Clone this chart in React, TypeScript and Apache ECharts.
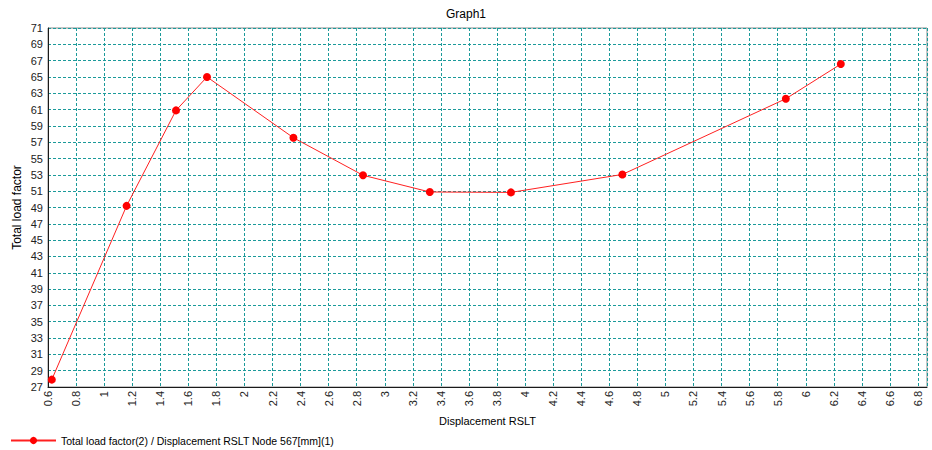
import React, { useEffect, useRef } from "react";
import * as echarts from "echarts";

const displacement = [0.627, 1.16, 1.512, 1.733, 2.349, 2.845, 3.321, 3.899, 4.693, 5.858, 6.25];
const loadFactor = [27.9, 49.2, 60.9, 65.0, 57.55, 52.95, 50.9, 50.85, 53.05, 62.33, 66.58];
const titleText = "Graph1";
const xName = "Displacement RSLT";
const yName = "Total load factor";
const seriesName = "Total load factor(2) / Displacement RSLT Node 567[mm](1)";

const FONT = "'Liberation Sans', Arial, sans-serif";

export default function App() {
  const ref = useRef<HTMLDivElement>(null);
  useEffect(() => {
    if (!ref.current) return;
    const chart = echarts.init(ref.current, undefined, { renderer: "svg" });
    const data = displacement.map((x, i) => [x, loadFactor[i]]);
    chart.setOption({
      animation: false,
      backgroundColor: "#ffffff",
      textStyle: { fontFamily: FONT },
      title: {
        text: titleText,
        left: "center",
        top: 3,
        textStyle: { fontSize: 12, fontWeight: "normal", color: "#000", fontFamily: FONT },
      },
      legend: {
        left: 10,
        top: 435,
        padding: 0,
        itemWidth: 45,
        itemHeight: 9,
        itemGap: 10,
        textStyle: { fontSize: 10.5, color: "#000", fontFamily: FONT },
        data: [{ name: seriesName }],
      },
      grid: {
        left: 48,
        top: 28,
        right: 5,
        bottom: 63,
        show: true,
        borderColor: "#8c8c8c",
        borderWidth: 1,
      },
      xAxis: {
        type: "value",
        min: 0.6,
        max: 6.864,
        interval: 0.2,
        name: xName,
        nameLocation: "middle",
        nameGap: 28,
        nameMoveOverlap: false,
        nameTextStyle: { fontSize: 11, color: "#000", fontFamily: FONT, verticalAlign: "top" },
        axisLine: { show: true, onZero: false, lineStyle: { color: "#1a1a1a", width: 1 } },
        axisTick: { show: false },
        axisLabel: {
          rotate: 90,
          margin: 4,
          fontSize: 11,
          color: "#222",
          fontFamily: FONT,
          showMaxLabel: false,
        },
        splitLine: { show: true, lineStyle: { color: "#1b9a9a", type: [3, 2], width: 1 } },
      },
      yAxis: {
        type: "value",
        min: 27,
        max: 71,
        interval: 2,
        name: yName,
        nameLocation: "middle",
        nameGap: 25,
        nameMoveOverlap: false,
        nameTextStyle: { fontSize: 12, color: "#000", fontFamily: FONT },
        axisLine: { show: true, onZero: false, lineStyle: { color: "#1a1a1a", width: 1 } },
        axisTick: { show: false },
        axisLabel: { margin: 5, fontSize: 11, color: "#222", fontFamily: FONT },
        splitLine: { show: true, lineStyle: { color: "#1b9a9a", type: [3, 2], width: 1 } },
      },
      series: [
        {
          name: seriesName,
          type: "line",
          data,
          symbol: "circle",
          symbolSize: 8,
          itemStyle: { color: "#ff0000" },
          lineStyle: { color: "#ff2020", width: 1 },
        },
      ],
    });
    return () => chart.dispose();
  }, []);
  return (
    <div
      ref={ref}
      style={{ position: "absolute", left: 0, top: 0, width: 932, height: 450 }}
    />
  );
}
